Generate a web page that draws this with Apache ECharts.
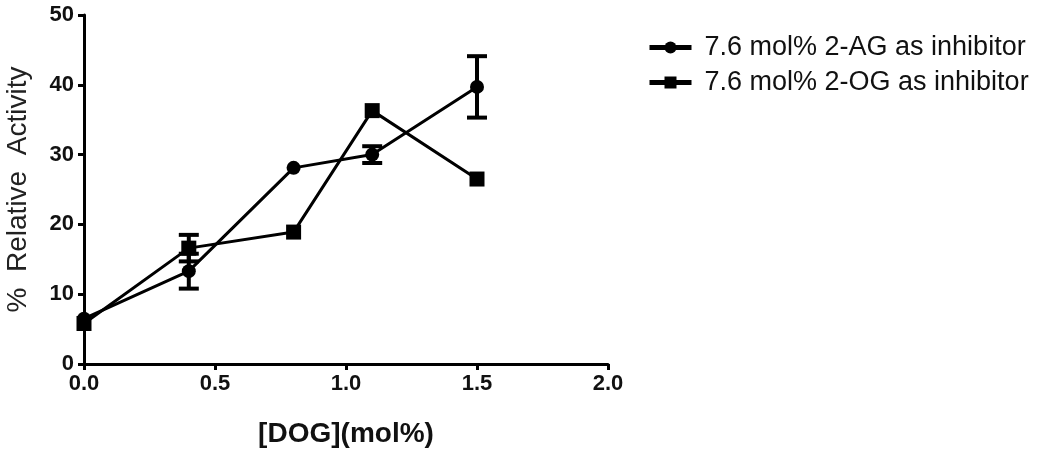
<!DOCTYPE html>
<html>
<head>
<meta charset="utf-8">
<script src="https://cdn.jsdelivr.net/npm/echarts@6/dist/echarts.min.js"></script>
<style>
  html, body { margin: 0; padding: 0; background: #fff; }
  #main { width: 1050px; height: 453px; }
</style>
</head>
<body>
<div id="main"></div>
<script>
var dogX  = [0, 0.4, 0.8, 1.1, 1.5];
var agVal = [6.5, 13.3, 28.1, 30.0, 39.7];
var agErr = [0, 2.5, 0, 1.2, 4.4];
var ogVal = [5.8, 16.6, 18.9, 36.3, 26.5];
var ogErr = [0, 1.9, 0, 0, 0];
var xTicks = [0, 0.5, 1.0, 1.5, 2.0];
var yTicks = [0, 10, 20, 30, 40, 50];

var agName = '7.6 mol% 2-AG as inhibitor';
var ogName = '7.6 mol% 2-OG as inhibitor';

function pairs(xs, ys) {
    var out = [];
    for (var i = 0; i < xs.length; i++) out.push([xs[i], ys[i]]);
    return out;
}
function errRows(xs, ys, es) {
    var out = [];
    for (var i = 0; i < xs.length; i++) {
        if (es[i] > 0) out.push([xs[i], ys[i] - es[i], ys[i] + es[i]]);
    }
    return out;
}
function renderErr(params, api) {
    var lo = api.coord([api.value(0), api.value(1)]);
    var hi = api.coord([api.value(0), api.value(2)]);
    var w = 10;
    var st = { stroke: '#000', lineWidth: 4 };
    return {
        type: 'group',
        children: [
            { type: 'line', shape: { x1: lo[0], y1: lo[1], x2: hi[0], y2: hi[1] }, style: st },
            { type: 'line', shape: { x1: lo[0] - w, y1: lo[1], x2: lo[0] + w, y2: lo[1] }, style: st },
            { type: 'line', shape: { x1: hi[0] - w, y1: hi[1], x2: hi[0] + w, y2: hi[1] }, style: st }
        ]
    };
}

var myChart = echarts.init(document.getElementById('main'));
var fam = 'Liberation Sans, Arial, sans-serif';
var labelFont = { color: '#111', fontSize: 22, fontWeight: 'bold', fontFamily: fam };

var option = {
    animation: false,
    backgroundColor: '#fff',
    grid: { left: 84, top: 15, right: 442, bottom: 86 },
    legend: {
        orient: 'vertical',
        left: 642,
        top: 29,
        itemGap: 8,
        itemWidth: 42,
        itemHeight: 15,
        lineStyle: { width: 5 },
        textStyle: { color: '#111', fontSize: 27, fontFamily: fam, padding: [0, 0, 0, 8] },
        data: [agName, ogName]
    },
    xAxis: {
        type: 'value',
        min: 0, max: 2, interval: 0.5,
        name: '[DOG](mol%)',
        nameLocation: 'middle',
        nameGap: 56,
        nameTextStyle: { color: '#111', fontSize: 28, fontWeight: 'bold', fontFamily: fam },
        axisLine: { lineStyle: { color: '#000', width: 3 } },
        axisTick: { length: 6, lineStyle: { color: '#000', width: 3 } },
        axisLabel: Object.assign({ margin: 9, formatter: function (v) { return xTicks.indexOf(v) >= 0 ? v.toFixed(1) : ''; } }, labelFont),
        splitLine: { show: false }
    },
    yAxis: {
        type: 'value',
        min: 0, max: 50, interval: 10,
        name: '%  Relative  Activity',
        nameLocation: 'middle',
        nameGap: 52,
        nameTextStyle: { color: '#222', fontSize: 28, fontFamily: fam },
        axisLine: { lineStyle: { color: '#000', width: 3 } },
        axisTick: { length: 6, lineStyle: { color: '#000', width: 3 } },
        axisLabel: Object.assign({ margin: 10, formatter: function (v) { return yTicks.indexOf(v) >= 0 ? String(v) : ''; } }, labelFont),
        splitLine: { show: false }
    },
    series: [
        {
            name: agName,
            type: 'line',
            data: pairs(dogX, agVal),
            symbol: 'circle',
            symbolSize: 14,
            lineStyle: { color: '#000', width: 3 },
            itemStyle: { color: '#000' },
            z: 3
        },
        {
            name: ogName,
            type: 'line',
            data: pairs(dogX, ogVal),
            symbol: 'rect',
            symbolSize: 15,
            lineStyle: { color: '#000', width: 3 },
            itemStyle: { color: '#000' },
            z: 3
        },
        {
            type: 'custom',
            renderItem: renderErr,
            data: errRows(dogX, agVal, agErr),
            encode: { x: 0, y: [1, 2] },
            z: 4
        },
        {
            type: 'custom',
            renderItem: renderErr,
            data: errRows(dogX, ogVal, ogErr),
            encode: { x: 0, y: [1, 2] },
            z: 4
        }
    ]
};
myChart.setOption(option);
</script>
</body>
</html>
